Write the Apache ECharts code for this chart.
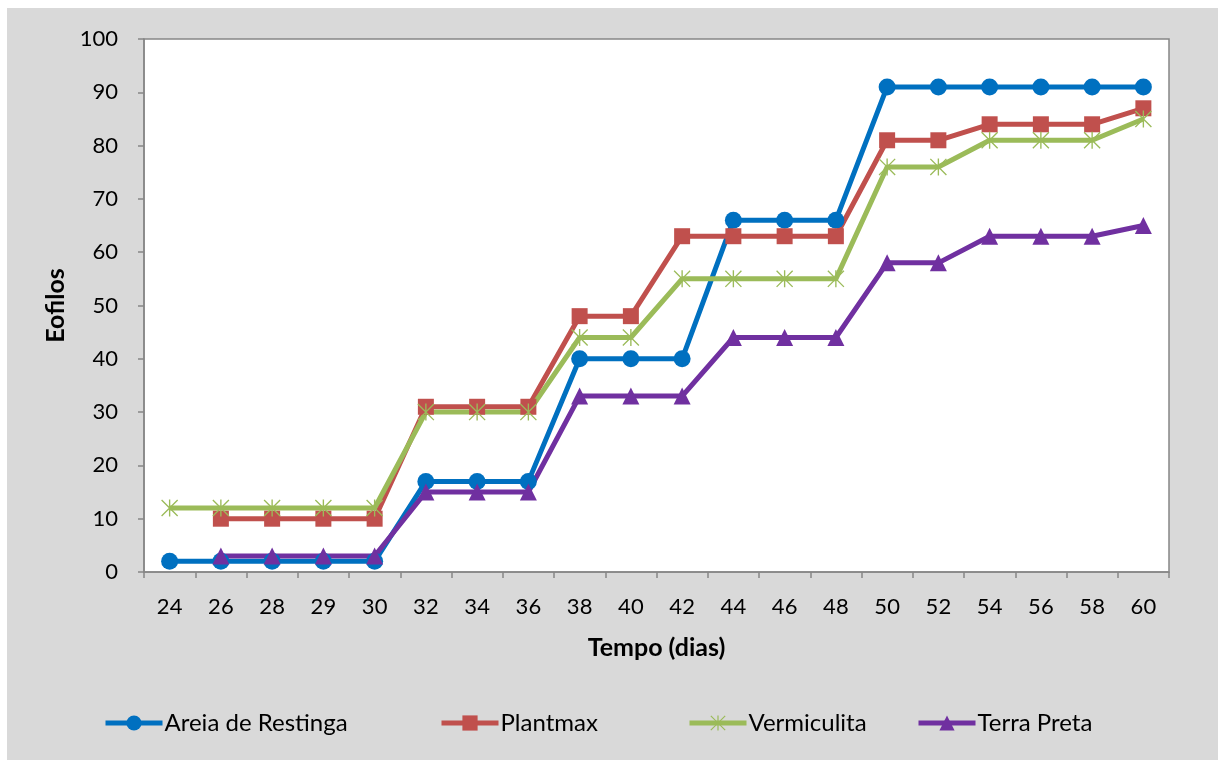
<!DOCTYPE html>
<html>
<head>
<meta charset="utf-8">
<script src="https://cdn.jsdelivr.net/npm/echarts@6/dist/echarts.min.js"></script>
<style>
  html, body { margin: 0; padding: 0; background: #ffffff; }
  #chart { width: 1218px; height: 760px; }
</style>
</head>
<body>
<div id="chart"></div>
<script>
// Days after sowing
const dias = ['24', '26', '28', '29', '30', '32', '34', '36', '38', '40', '42', '44', '46', '48', '50', '52', '54', '56', '58', '60'];

// Number of eophylls per substrate
const areiaRestinga = [2, 2, 2, 2, 2, 17, 17, 17, 40, 40, 40, 66, 66, 66, 91, 91, 91, 91, 91, 91];
const plantmax      = [null, 10, 10, 10, 10, 31, 31, 31, 48, 48, 63, 63, 63, 63, 81, 81, 84, 84, 84, 87];
const vermiculita   = [12, 12, 12, 12, 12, 30, 30, 30, 44, 44, 55, 55, 55, 55, 76, 76, 81, 81, 81, 85];
const terraPreta    = [null, 3, 3, 3, 3, 15, 15, 15, 33, 33, 33, 44, 44, 44, 58, 58, 63, 63, 63, 65];

const yTicks = { min: 0, max: 100, interval: 10 };

// Asterisk marker: one vertical stroke and two diagonal strokes
const asterisk = 'path://M9.2,0L10.8,0L10.8,20L9.2,20Z' +
  'M0,1.1L1.1,0L20,18.9L18.9,20Z' +
  'M18.9,0L20,1.1L1.1,20L0,18.9Z';

const FONT = 'Lato, "Open Sans", sans-serif';
const AXIS_GREY = '#868686';

function lineSeries(name, data, color, symbol, size) {
  return {
    name: name,
    type: 'line',
    data: data,
    symbol: symbol,
    symbolSize: size,
    showAllSymbol: true,
    connectNulls: false,
    lineStyle: { color: color, width: 5 },
    itemStyle: { color: color, borderWidth: 0 },
    emphasis: { disabled: true },
    animation: false
  };
}

function legendAt(name, left) {
  return {
    data: [name],
    left: left,
    top: 711,
    padding: 0,
    itemWidth: 57,
    itemHeight: 19,
    itemGap: 0,
    lineStyle: { width: 5 },
    textStyle: { fontFamily: FONT, fontSize: 24, color: '#000000', padding: [0, 0, 0, -3] }
  };
}

const chart = echarts.init(document.getElementById('chart'), null, { renderer: 'canvas' });

chart.setOption({
  backgroundColor: '#ffffff',
  animation: false,
  graphic: [{
    type: 'rect',
    shape: { x: 7, y: 8, width: 1211, height: 752 },
    style: { fill: '#d9d9d9' },
    z: -10,
    silent: true
  }],
  grid: {
    left: 144,
    top: 39,
    width: 1025,
    height: 533,
    show: true,
    backgroundColor: '#ffffff',
    borderColor: AXIS_GREY,
    borderWidth: 1.5
  },
  legend: [
    legendAt('Areia de Restinga', 103),
    legendAt('Plantmax', 439),
    legendAt('Vermiculita', 687),
    legendAt('Terra Preta', 916)
  ],
  xAxis: {
    type: 'category',
    data: dias,
    boundaryGap: true,
    name: 'Tempo (dias)',
    nameLocation: 'middle',
    nameGap: 63,
    nameTextStyle: { fontFamily: FONT, fontSize: 25, fontWeight: 'bold', color: '#000000' },
    axisLine: { lineStyle: { color: AXIS_GREY, width: 1.5 } },
    axisTick: { show: true, alignWithLabel: false, length: 6, lineStyle: { color: AXIS_GREY, width: 1.5 } },
    axisLabel: { fontFamily: FONT, fontSize: 22, color: '#000000', margin: 24 },
    splitLine: { show: false }
  },
  yAxis: {
    type: 'value',
    min: yTicks.min,
    max: yTicks.max,
    interval: yTicks.interval,
    name: 'Eofilos',
    nameLocation: 'middle',
    nameGap: 76,
    nameTextStyle: { fontFamily: FONT, fontSize: 25, fontWeight: 'bold', color: '#000000' },
    axisLine: { show: true, lineStyle: { color: AXIS_GREY, width: 1.5 } },
    axisTick: { show: true, length: 6, lineStyle: { color: AXIS_GREY, width: 1.5 } },
    axisLabel: { fontFamily: FONT, fontSize: 22, color: '#000000', margin: 26 },
    splitLine: { show: false }
  },
  series: [
    lineSeries('Areia de Restinga', areiaRestinga, '#0070C0', 'circle', 17),
    lineSeries('Plantmax', plantmax, '#C0504D', 'rect', 16),
    lineSeries('Vermiculita', vermiculita, '#9BBB59', asterisk, 17),
    lineSeries('Terra Preta', terraPreta, '#7030A0', 'triangle', 17)
  ]
});
</script>
</body>
</html>
